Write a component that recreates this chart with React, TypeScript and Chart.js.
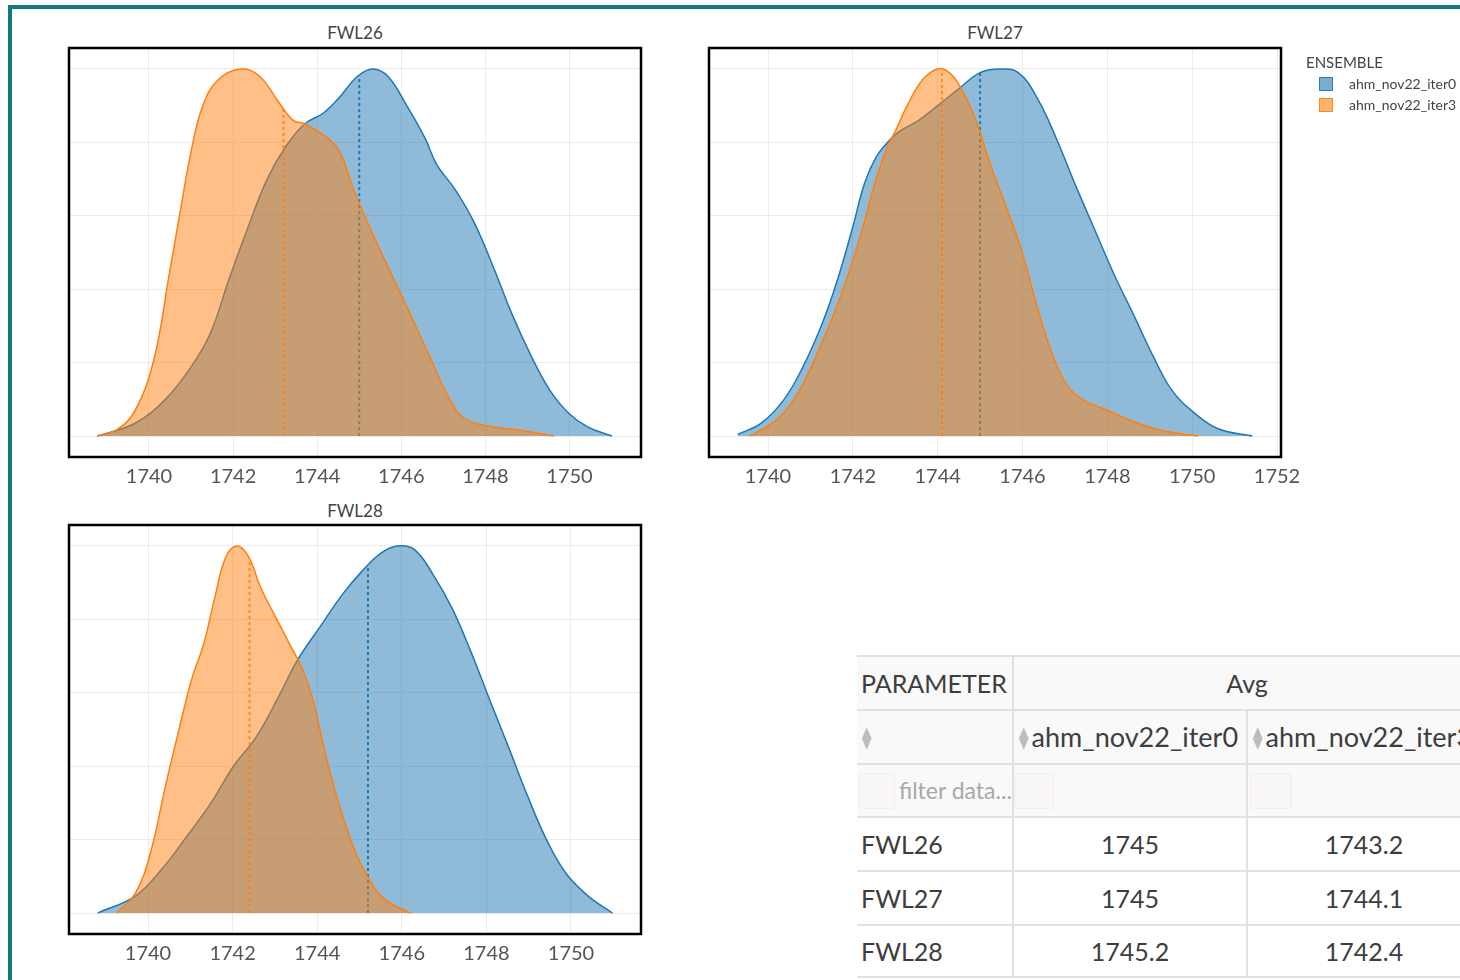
import React, { useEffect, useRef } from 'react';
import { Chart, registerables } from 'chart.js';

Chart.register(...registerables);

// ---------- data ----------
const ENSEMBLES = ['ahm_nov22_iter0', 'ahm_nov22_iter3'];
const PARAMETERS = ['FWL26', 'FWL27', 'FWL28'];
const AVG_ITER0 = [1745, 1745, 1745.2];
const AVG_ITER3 = [1743.2, 1744.1, 1742.4];

const X_TICKS_FWL26 = [1740, 1742, 1744, 1746, 1748, 1750];
const X_TICKS_FWL27 = [1740, 1742, 1744, 1746, 1748, 1750, 1752];
const X_TICKS_FWL28 = [1740, 1742, 1744, 1746, 1748, 1750];
const Y_GRID = [0, 0.2, 0.4, 0.6, 0.8, 1.0];

// FWL26 densities (normalised)
const FWL26_ITER0_X = [1738.77, 1739.67, 1740.39, 1741.01, 1741.46, 1741.91, 1742.36, 1742.81, 1743.26, 1743.70, 1744.15, 1744.51, 1744.96, 1745.32, 1745.68, 1746.13, 1746.57, 1746.84, 1747.29, 1747.74, 1748.19, 1748.64, 1749.08, 1749.53, 1749.98, 1750.43, 1751.01];
const FWL26_ITER0_Y = [0, 0.035, 0.10, 0.19, 0.28, 0.43, 0.57, 0.70, 0.79, 0.85, 0.88, 0.92, 0.98, 1.0, 0.98, 0.90, 0.81, 0.74, 0.67, 0.58, 0.46, 0.33, 0.22, 0.125, 0.062, 0.025, 0];
const FWL26_ITER3_X = [1738.77, 1739.22, 1739.67, 1740.12, 1740.48, 1740.74, 1741.01, 1741.28, 1741.64, 1742.18, 1742.63, 1743.08, 1743.43, 1743.70, 1744.15, 1744.51, 1744.87, 1745.32, 1745.77, 1746.22, 1746.66, 1747.20, 1747.56, 1748.19, 1748.82, 1749.62];
const FWL26_ITER3_Y = [0, 0.016, 0.07, 0.21, 0.44, 0.61, 0.78, 0.90, 0.97, 1.0, 0.98, 0.91, 0.86, 0.85, 0.82, 0.78, 0.67, 0.55, 0.44, 0.33, 0.22, 0.09, 0.044, 0.025, 0.016, 0];

// FWL27 densities
const FWL27_ITER0_X = [1739.29, 1739.84, 1740.38, 1740.83, 1741.29, 1741.65, 1742.0, 1742.28, 1742.55, 1742.82, 1743.1, 1743.55, 1744.0, 1744.54, 1745.0, 1745.45, 1745.9, 1746.35, 1746.8, 1747.26, 1747.71, 1748.16, 1748.62, 1749.07, 1749.52, 1750.06, 1750.61, 1751.42];
const FWL27_ITER0_Y = [0.005, 0.035, 0.10, 0.19, 0.31, 0.43, 0.57, 0.69, 0.76, 0.80, 0.83, 0.86, 0.90, 0.95, 0.99, 1.0, 0.99, 0.92, 0.81, 0.68, 0.56, 0.44, 0.33, 0.22, 0.125, 0.062, 0.02, 0];
const FWL27_ITER3_X = [1739.57, 1740.2, 1740.74, 1741.29, 1741.74, 1742.19, 1742.55, 1742.82, 1743.0, 1743.28, 1743.64, 1744.0, 1744.27, 1744.54, 1744.9, 1745.27, 1745.63, 1745.99, 1746.35, 1746.71, 1747.08, 1747.44, 1747.98, 1748.52, 1749.25, 1750.15];
const FWL27_ITER3_Y = [0, 0.044, 0.125, 0.26, 0.39, 0.55, 0.70, 0.79, 0.83, 0.90, 0.97, 1.0, 0.99, 0.95, 0.86, 0.73, 0.62, 0.50, 0.35, 0.22, 0.134, 0.098, 0.071, 0.044, 0.016, 0];

// FWL28 densities
const FWL28_ITER0_X = [1738.81, 1739.71, 1740.33, 1740.86, 1741.49, 1742.02, 1742.56, 1743.09, 1743.54, 1744.07, 1744.61, 1745.05, 1745.5, 1745.9, 1746.3, 1746.75, 1747.19, 1747.64, 1748.08, 1748.53, 1748.97, 1749.42, 1749.87, 1750.4, 1750.98];
const FWL28_ITER0_Y = [0, 0.047, 0.12, 0.20, 0.30, 0.40, 0.48, 0.59, 0.69, 0.78, 0.87, 0.93, 0.98, 1.0, 0.99, 0.92, 0.83, 0.71, 0.58, 0.45, 0.32, 0.20, 0.11, 0.047, 0];
const FWL28_ITER3_X = [1739.26, 1739.71, 1740.06, 1740.42, 1740.69, 1741.04, 1741.31, 1741.58, 1741.84, 1742.11, 1742.38, 1742.65, 1743.0, 1743.36, 1743.63, 1743.9, 1744.16, 1744.43, 1744.79, 1745.14, 1745.59, 1746.21];
const FWL28_ITER3_Y = [0, 0.056, 0.165, 0.35, 0.48, 0.64, 0.73, 0.86, 0.97, 1.0, 0.97, 0.89, 0.81, 0.73, 0.67, 0.58, 0.45, 0.33, 0.20, 0.11, 0.038, 0];

// ---------- styling ----------
const FONT = 'Lato, "Open Sans", "DejaVu Sans", sans-serif';
const BLUE = '#1f77b4';
const ORANGE = '#ff7f0e';
const BLUE_FILL = 'rgba(31,119,180,0.5)';
const ORANGE_FILL = 'rgba(255,127,14,0.5)';

function densityAt(xs: number[], ys: number[], v: number): number {
  for (let i = 0; i < xs.length - 1; i++) {
    if (v >= xs[i] && v <= xs[i + 1]) {
      const t = (v - xs[i]) / (xs[i + 1] - xs[i]);
      return ys[i] + t * (ys[i + 1] - ys[i]);
    }
  }
  return 0;
}

const framePlugin = {
  id: 'frame',
  afterDraw(chart: any) {
    const { ctx, chartArea } = chart;
    ctx.save();
    ctx.strokeStyle = '#000';
    ctx.lineWidth = 2.5;
    ctx.strokeRect(chartArea.left, chartArea.top, chartArea.right - chartArea.left, chartArea.bottom - chartArea.top);
    ctx.restore();
  },
};

function curveDataset(label: string, xs: number[], ys: number[], line: string, fill: string, order: number) {
  return {
    label,
    data: xs.map((x, i) => ({ x, y: ys[i] })),
    borderColor: line,
    backgroundColor: fill,
    borderWidth: 1.5,
    fill: 'origin',
    pointRadius: 0,
    tension: 0.4,
    order,
  };
}

function meanDataset(label: string, mean: number, xs: number[], ys: number[], color: string, order: number) {
  return {
    label,
    data: [
      { x: mean, y: 0 },
      { x: mean, y: densityAt(xs, ys, mean) },
    ],
    borderColor: color,
    borderWidth: 2,
    borderDash: [3, 3],
    fill: false,
    pointRadius: 0,
    tension: 0,
    order,
  };
}

function makeConfig(
  idx: number,
  x0: number[], y0: number[], x3: number[], y3: number[],
  xMin: number, xMax: number, xTicks: number[], padRight: number
): any {
  return {
    type: 'line',
    data: {
      datasets: [
        meanDataset(ENSEMBLES[1] + ' mean', AVG_ITER3[idx], x3, y3, 'rgba(255,127,14,0.85)', 0),
        curveDataset(ENSEMBLES[1], x3, y3, ORANGE, ORANGE_FILL, 1),
        meanDataset(ENSEMBLES[0] + ' mean', AVG_ITER0[idx], x0, y0, BLUE, 2),
        curveDataset(ENSEMBLES[0], x0, y0, BLUE, BLUE_FILL, 3),
      ],
    },
    options: {
      animation: false,
      responsive: false,
      layout: { padding: { left: 69, right: padRight, top: 48, bottom: 12 } },
      plugins: { legend: { display: false }, tooltip: { enabled: false }, title: { display: false } },
      scales: {
        x: {
          type: 'linear',
          min: xMin,
          max: xMax,
          afterBuildTicks: (ax: any) => { ax.ticks = xTicks.map((v) => ({ value: v })); },
          afterFit: (s: any) => { s.height = 31; },
          grid: { color: '#ebebeb', lineWidth: 1, drawTicks: false },
          border: { display: false },
          ticks: {
            padding: 8,
            color: '#555',
            font: { family: FONT, size: 20 },
            callback: (v: any) => String(v),
            autoSkip: false,
            maxRotation: 0,
          },
        },
        y: {
          type: 'linear',
          min: -0.057,
          max: 1.057,
          afterBuildTicks: (ax: any) => { ax.ticks = Y_GRID.map((v) => ({ value: v })); },
          afterFit: (s: any) => { s.width = 0; },
          grid: { color: '#ebebeb', lineWidth: 1, drawTicks: false },
          border: { display: false },
          ticks: { display: false },
        },
      },
    },
    plugins: [framePlugin],
  };
}

function DensityChart({ left, top, width, build }: { left: number; top: number; width: number; build: () => any }) {
  const ref = useRef<HTMLCanvasElement | null>(null);
  useEffect(() => {
    const chart = new Chart(ref.current as HTMLCanvasElement, build());
    return () => chart.destroy();
  }, []);
  return (
    <canvas
      ref={ref}
      width={width}
      height={500}
      style={{ position: 'absolute', left, top, width, height: 500 }}
    />
  );
}

function Title({ text, cx, cy }: { text: string; cx: number; cy: number }) {
  return (
    <div
      style={{
        position: 'absolute', left: cx - 100, top: cy - 10, width: 200, height: 20,
        lineHeight: '20px', textAlign: 'center', fontSize: 17, color: '#444',
      }}
    >
      {text}
    </div>
  );
}

function SortIcon() {
  return (
    <span
      style={{
        display: 'inline-flex', flexDirection: 'column', alignItems: 'center',
        fontSize: 15, lineHeight: '11px', color: '#bdbdbd', marginRight: 2, verticalAlign: 'middle',
        transform: 'scaleX(0.85)',
      }}
    >
      <span>▲</span>
      <span>▼</span>
    </span>
  );
}

const BORDER = '2px solid #e1e1e1';

function Cell({ children, col, span, row, align, bg, last }: any) {
  return (
    <div
      style={{
        gridColumn: span ? `${col} / span ${span}` : `${col}`,
        gridRow: `${row}`,
        boxSizing: 'border-box',
        borderTop: BORDER,
        borderLeft: col > 1 ? BORDER : 'none',
        borderBottom: last ? BORDER : 'none',
        background: bg || '#fff',
        display: 'flex',
        alignItems: 'center',
        justifyContent: align === 'center' ? 'center' : 'flex-start',
        padding: '0 4px',
        whiteSpace: 'nowrap',
        overflow: 'hidden',
        position: 'relative',
      }}
    >
      {children}
    </div>
  );
}

function DataTable() {
  const headBg = '#f9f9f9';
  const faintBox = (l: number, w: number) => (
    <div
      style={{
        position: 'absolute', left: l, top: 8, width: w, height: 34, borderRadius: 4,
        border: '1px solid rgba(230,150,150,0.10)', background: 'rgba(255,225,225,0.10)',
      }}
    />
  );
  return (
    <div
      style={{
        position: 'absolute', left: 857, top: 655, display: 'grid',
        gridTemplateColumns: '155px 234px 234px', gridTemplateRows: 'repeat(6, 53.8px)',
        fontSize: 25, color: '#3d3d3d',
      }}
    >
      <Cell col={1} row={1} bg={headBg}>PARAMETER</Cell>
      <Cell col={2} span={2} row={1} align="center" bg={headBg}>Avg</Cell>

      <Cell col={1} row={2} bg={headBg}><SortIcon /></Cell>
      <Cell col={2} row={2} bg={headBg}><span style={{ fontSize: 27, display: 'flex', alignItems: 'center' }}><SortIcon />{ENSEMBLES[0]}</span></Cell>
      <Cell col={3} row={2} bg={headBg}><span style={{ fontSize: 27, display: 'flex', alignItems: 'center' }}><SortIcon />{ENSEMBLES[1]}</span></Cell>

      <Cell col={1} row={3} bg={headBg}>
        {faintBox(2, 34)}
        <span style={{ paddingLeft: 38, fontSize: 23, color: '#a8a8a8' }}>filter data...</span>
      </Cell>
      <Cell col={2} row={3} bg={headBg}>{faintBox(0, 38)}</Cell>
      <Cell col={3} row={3} bg={headBg}>{faintBox(2, 40)}</Cell>

      {PARAMETERS.map((p, i) => (
        <React.Fragment key={p}>
          <Cell col={1} row={4 + i} last={i === PARAMETERS.length - 1}>{p}</Cell>
          <Cell col={2} row={4 + i} align="center" last={i === PARAMETERS.length - 1}>{String(AVG_ITER0[i])}</Cell>
          <Cell col={3} row={4 + i} align="center" last={i === PARAMETERS.length - 1}>{String(AVG_ITER3[i])}</Cell>
        </React.Fragment>
      ))}
    </div>
  );
}

function Legend() {
  const item = (label: string, fill: string, line: string, top: number) => (
    <div style={{ position: 'absolute', left: 1319, top, height: 14, display: 'flex', alignItems: 'center' }}>
      <div style={{ width: 12, height: 12, background: fill, border: `1px solid ${line}` }} />
      <div style={{ marginLeft: 16, fontSize: 14, color: '#444', lineHeight: '14px' }}>{label}</div>
    </div>
  );
  return (
    <>
      <div style={{ position: 'absolute', left: 1306, top: 53, fontSize: 15, color: '#444', lineHeight: '18px' }}>ENSEMBLE</div>
      {item(ENSEMBLES[0], 'rgba(31,119,180,0.6)', 'rgba(31,119,180,0.8)', 77)}
      {item(ENSEMBLES[1], 'rgba(255,127,14,0.6)', 'rgba(255,127,14,0.8)', 98)}
    </>
  );
}

export default function App() {
  return (
    <div
      style={{
        position: 'fixed', left: 0, top: 0, width: 1460, height: 980, overflow: 'hidden',
        background: '#fff', fontFamily: FONT,
      }}
    >
      <div
        style={{
          position: 'absolute', left: 8, top: 5, width: 1700, height: 1200,
          border: '4px solid #12797e', boxSizing: 'border-box',
        }}
      />
      <Title text={PARAMETERS[0]} cx={355} cy={33} />
      <Title text={PARAMETERS[1]} cx={995} cy={33} />
      <Title text={PARAMETERS[2]} cx={355} cy={511} />

      <DensityChart
        left={0}
        top={0}
        width={680}
        build={() => makeConfig(0, FWL26_ITER0_X, FWL26_ITER0_Y, FWL26_ITER3_X, FWL26_ITER3_Y, 1738.098, 1751.70, X_TICKS_FWL26, 39)}
      />
      <DensityChart
        left={640}
        top={0}
        width={700}
        build={() => makeConfig(1, FWL27_ITER0_X, FWL27_ITER0_Y, FWL27_ITER3_X, FWL27_ITER3_Y, 1738.609, 1752.094, X_TICKS_FWL27, 59)}
      />
      <DensityChart
        left={0}
        top={477}
        width={680}
        build={() => makeConfig(2, FWL28_ITER0_X, FWL28_ITER0_Y, FWL28_ITER3_X, FWL28_ITER3_Y, 1738.132, 1751.655, X_TICKS_FWL28, 39)}
      />

      <Legend />
      <DataTable />
    </div>
  );
}
